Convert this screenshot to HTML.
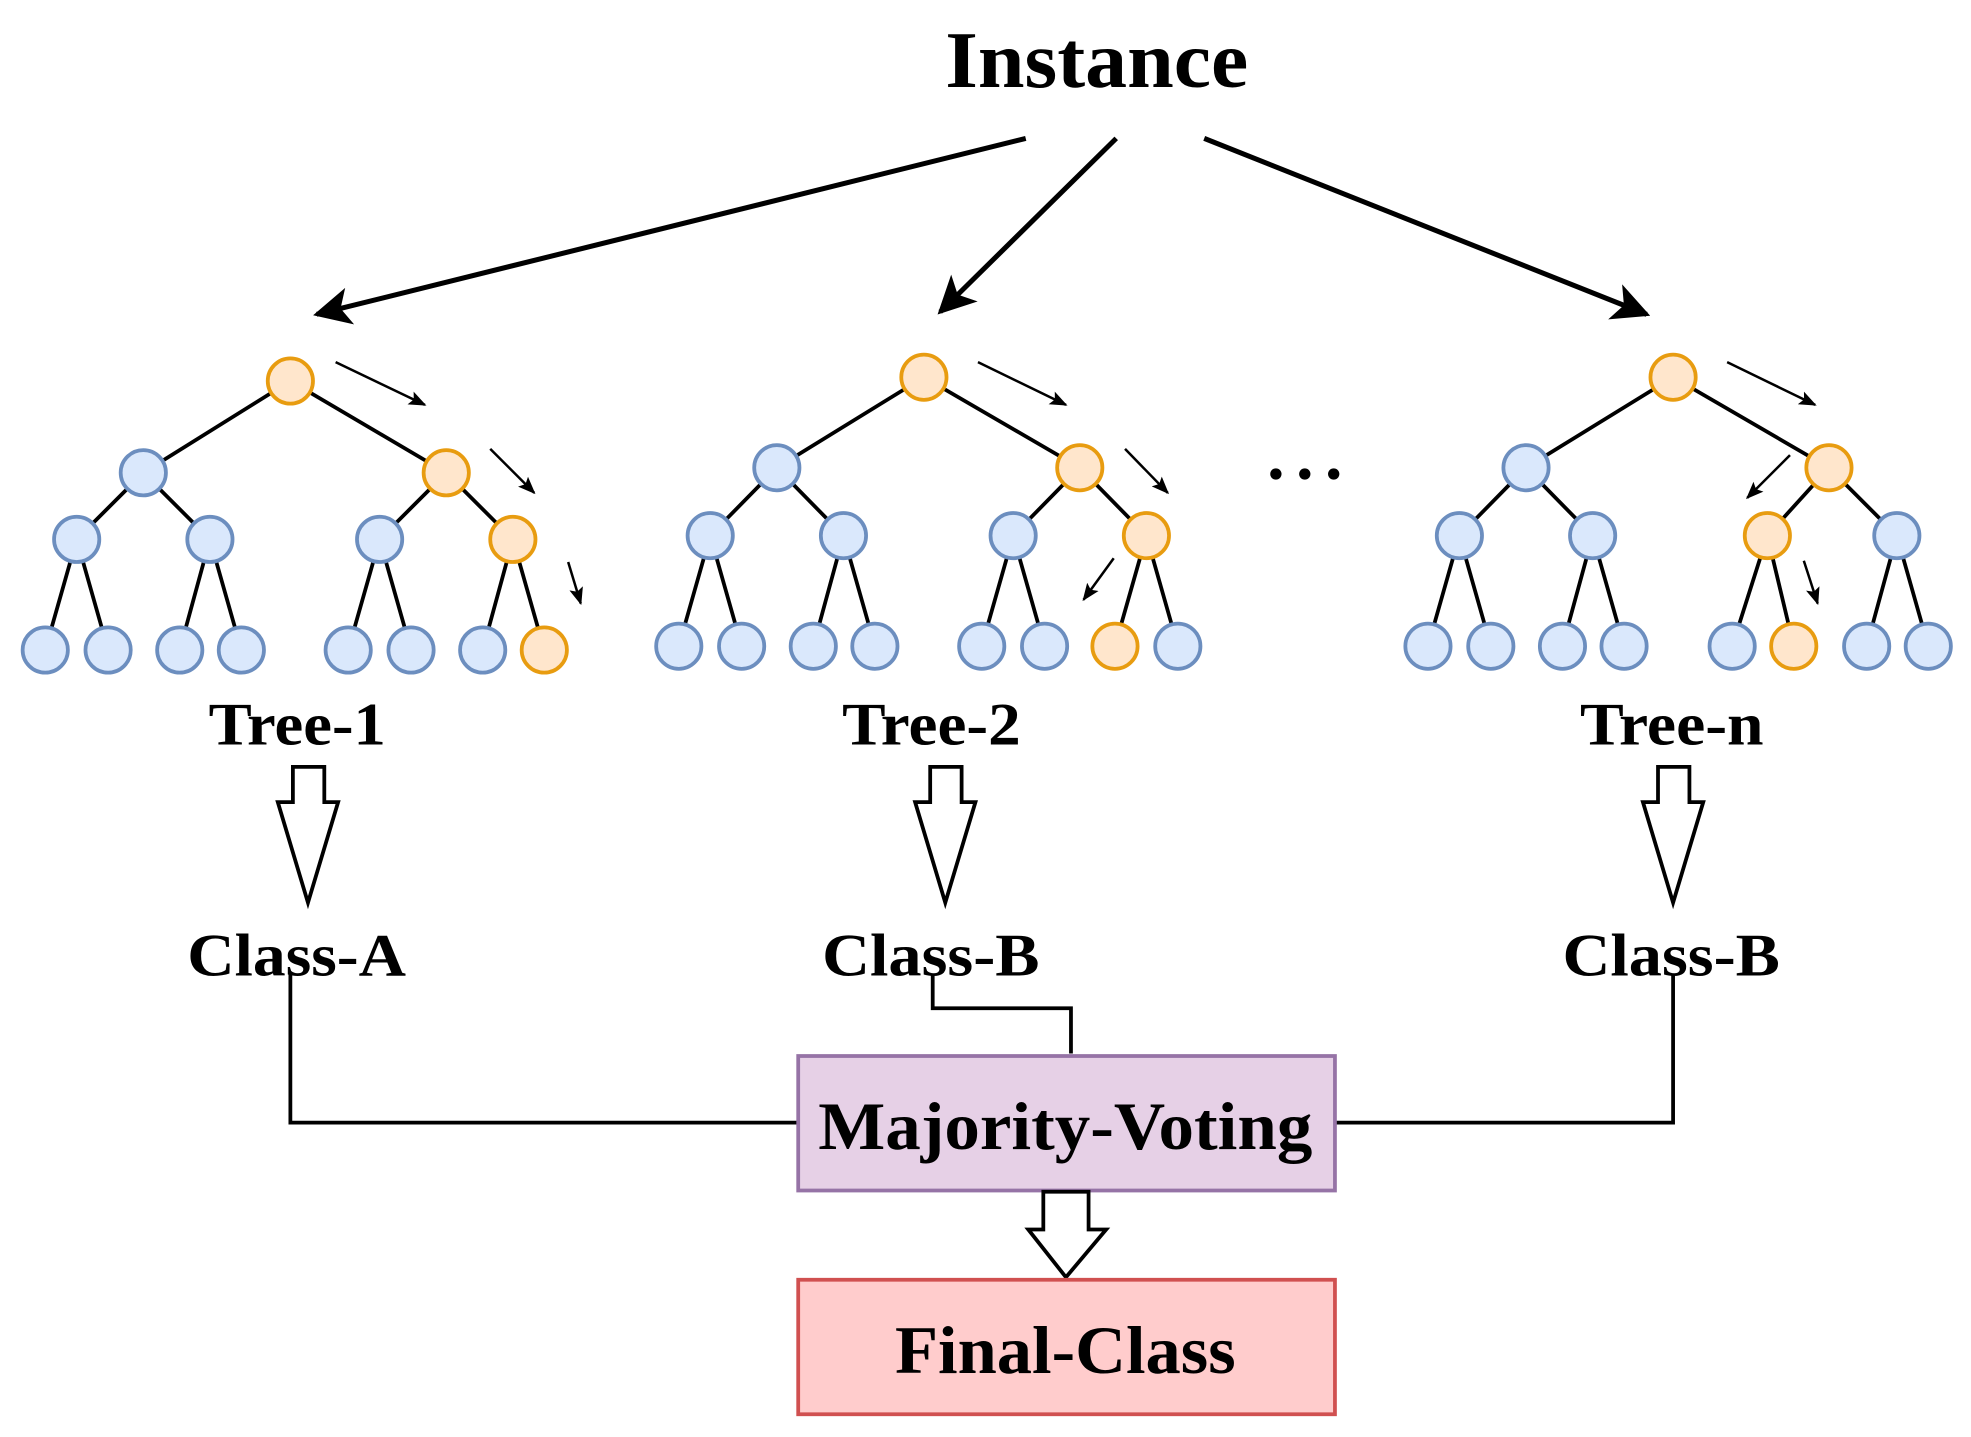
<!DOCTYPE html>
<html><head><style>html,body{margin:0;padding:0;background:#fff}svg{display:block}</style></head>
<body>
<svg width="1971" height="1437" viewBox="0 0 1568 1143" xmlns="http://www.w3.org/2000/svg">
<defs>
<marker id="bh" viewBox="0 0 10 10" refX="9" refY="5" markerWidth="30" markerHeight="30" markerUnits="userSpaceOnUse" orient="auto"><path d="M0,0 L10,5 L0,10 L2.5,5 z" fill="#000"/></marker>
<marker id="sh" viewBox="0 0 10 10" refX="9" refY="5" markerWidth="14" markerHeight="14" markerUnits="userSpaceOnUse" orient="auto"><path d="M0,1 L10,5 L0,9 L2,5 z" fill="#000"/></marker>
</defs>
<g stroke="#000" stroke-width="4" fill="none">
<line x1="816" y1="110" x2="252" y2="250" marker-end="url(#bh)"/>
<line x1="888" y1="110" x2="748" y2="248" marker-end="url(#bh)"/>
<line x1="958" y1="110" x2="1310" y2="250" marker-end="url(#bh)"/>
</g>
<g stroke="#000" stroke-width="2" fill="none">
<line x1="267" y1="288" x2="338" y2="322" marker-end="url(#sh)"/>
<line x1="390" y1="357" x2="425" y2="392" marker-end="url(#sh)"/>
<line x1="452" y1="447" x2="462" y2="480" marker-end="url(#sh)"/>
<line x1="778" y1="288" x2="848" y2="322" marker-end="url(#sh)"/>
<line x1="895" y1="357" x2="929" y2="392" marker-end="url(#sh)"/>
<line x1="886" y1="444" x2="862" y2="477" marker-end="url(#sh)"/>
<line x1="1374" y1="288" x2="1444" y2="322" marker-end="url(#sh)"/>
<line x1="1424" y1="362" x2="1390" y2="396" marker-end="url(#sh)"/>
<line x1="1435" y1="446" x2="1446" y2="480" marker-end="url(#sh)"/>
</g>
<g stroke-width="3">
<g stroke="#000">
<line x1="231" y1="303" x2="114" y2="376"/><line x1="231" y1="303" x2="355" y2="376"/>
<line x1="114" y1="376" x2="61" y2="429"/><line x1="114" y1="376" x2="167" y2="429"/>
<line x1="355" y1="376" x2="302" y2="429"/><line x1="355" y1="376" x2="408" y2="429"/>
<line x1="61" y1="429" x2="36" y2="517"/><line x1="61" y1="429" x2="86" y2="517"/>
<line x1="167" y1="429" x2="143" y2="517"/><line x1="167" y1="429" x2="192" y2="517"/>
<line x1="302" y1="429" x2="277" y2="517"/><line x1="302" y1="429" x2="327" y2="517"/>
<line x1="408" y1="429" x2="384" y2="517"/><line x1="408" y1="429" x2="433" y2="517"/>
<line x1="735" y1="300" x2="618" y2="372"/><line x1="735" y1="300" x2="859" y2="372"/>
<line x1="618" y1="372" x2="565" y2="426"/><line x1="618" y1="372" x2="671" y2="426"/>
<line x1="859" y1="372" x2="806" y2="426"/><line x1="859" y1="372" x2="912" y2="426"/>
<line x1="565" y1="426" x2="540" y2="514"/><line x1="565" y1="426" x2="590" y2="514"/>
<line x1="671" y1="426" x2="647" y2="514"/><line x1="671" y1="426" x2="696" y2="514"/>
<line x1="806" y1="426" x2="781" y2="514"/><line x1="806" y1="426" x2="831" y2="514"/>
<line x1="912" y1="426" x2="887" y2="514"/><line x1="912" y1="426" x2="937" y2="514"/>
<line x1="1331" y1="300" x2="1214" y2="372"/><line x1="1331" y1="300" x2="1455" y2="372"/>
<line x1="1214" y1="372" x2="1161" y2="426"/><line x1="1214" y1="372" x2="1267" y2="426"/>
<line x1="1455" y1="372" x2="1406" y2="426"/><line x1="1455" y1="372" x2="1509" y2="426"/>
<line x1="1161" y1="426" x2="1136" y2="514"/><line x1="1161" y1="426" x2="1186" y2="514"/>
<line x1="1267" y1="426" x2="1243" y2="514"/><line x1="1267" y1="426" x2="1292" y2="514"/>
<line x1="1406" y1="426" x2="1378" y2="514"/><line x1="1406" y1="426" x2="1427" y2="514"/>
<line x1="1509" y1="426" x2="1485" y2="514"/><line x1="1509" y1="426" x2="1534" y2="514"/>
</g>
<g fill="#dae8fc" stroke="#6c8ebf">
<circle cx="114" cy="376" r="18"/><circle cx="61" cy="429" r="18"/><circle cx="167" cy="429" r="18"/><circle cx="302" cy="429" r="18"/>
<circle cx="36" cy="517" r="18"/><circle cx="86" cy="517" r="18"/><circle cx="143" cy="517" r="18"/><circle cx="192" cy="517" r="18"/><circle cx="277" cy="517" r="18"/><circle cx="327" cy="517" r="18"/><circle cx="384" cy="517" r="18"/>
<circle cx="618" cy="372" r="18"/><circle cx="565" cy="426" r="18"/><circle cx="671" cy="426" r="18"/><circle cx="806" cy="426" r="18"/>
<circle cx="540" cy="514" r="18"/><circle cx="590" cy="514" r="18"/><circle cx="647" cy="514" r="18"/><circle cx="696" cy="514" r="18"/><circle cx="781" cy="514" r="18"/><circle cx="831" cy="514" r="18"/><circle cx="937" cy="514" r="18"/>
<circle cx="1214" cy="372" r="18"/><circle cx="1161" cy="426" r="18"/><circle cx="1267" cy="426" r="18"/><circle cx="1509" cy="426" r="18"/>
<circle cx="1136" cy="514" r="18"/><circle cx="1186" cy="514" r="18"/><circle cx="1243" cy="514" r="18"/><circle cx="1292" cy="514" r="18"/><circle cx="1378" cy="514" r="18"/><circle cx="1485" cy="514" r="18"/><circle cx="1534" cy="514" r="18"/>
</g>
<g fill="#ffe6cc" stroke="#e89c10">
<circle cx="231" cy="303" r="18"/><circle cx="355" cy="376" r="18"/><circle cx="408" cy="429" r="18"/><circle cx="433" cy="517" r="18"/>
<circle cx="735" cy="300" r="18"/><circle cx="859" cy="372" r="18"/><circle cx="912" cy="426" r="18"/><circle cx="887" cy="514" r="18"/>
<circle cx="1331" cy="300" r="18"/><circle cx="1455" cy="372" r="18"/><circle cx="1406" cy="426" r="18"/><circle cx="1427" cy="514" r="18"/>
</g>
</g>
<g fill="#000"><circle cx="1015" cy="377" r="4.5"/><circle cx="1038" cy="377" r="4.5"/><circle cx="1061" cy="377" r="4.5"/></g>
<g fill="#fff" stroke="#000" stroke-width="3">
<path d="M233,610 H258 V638 H269 L245,718 L221,638 H233 Z"/>
<path d="M740,610 H765 V638 H776 L752,718 L728,638 H740 Z"/>
<path d="M1319,610 H1344 V638 H1355 L1331,718 L1307,638 H1319 Z"/>
</g>
<g stroke="#000" stroke-width="3" fill="none">
<polyline points="231,775 231,893 636,893"/>
<polyline points="742,775 742,802 852,802 852,838"/>
<polyline points="1331,775 1331,893 1062,893"/>
</g>
<rect x="635" y="840" width="427" height="107" fill="#e6d0e6" stroke="#9673a6" stroke-width="3"/>
<path d="M830,948 H866 V978 H880 L848,1016 L818,978 H830 Z" fill="#fff" stroke="#000" stroke-width="3"/>
<rect x="635" y="1018" width="427" height="107" fill="#ffcccc" stroke="#d05050" stroke-width="3"/>
<g font-family="Liberation Serif, serif" font-weight="bold" fill="#000">
<text x="752" y="69" font-size="64" textLength="241" lengthAdjust="spacingAndGlyphs">Instance</text>
<text x="166" y="592" font-size="48" textLength="141" lengthAdjust="spacingAndGlyphs">Tree-1</text>
<text x="670" y="592" font-size="48" textLength="142" lengthAdjust="spacingAndGlyphs">Tree-2</text>
<text x="1257" y="592" font-size="48" textLength="146" lengthAdjust="spacingAndGlyphs">Tree-n</text>
<text x="149" y="776" font-size="48" textLength="174" lengthAdjust="spacingAndGlyphs">Class-A</text>
<text x="654" y="776" font-size="48" textLength="173" lengthAdjust="spacingAndGlyphs">Class-B</text>
<text x="1243" y="776" font-size="48" textLength="173" lengthAdjust="spacingAndGlyphs">Class-B</text>
<text x="651" y="914" font-size="54" textLength="393" lengthAdjust="spacingAndGlyphs">Majority-Voting</text>
<text x="712" y="1092" font-size="54" textLength="271" lengthAdjust="spacingAndGlyphs">Final-Class</text>
</g>
</svg>
</body></html>
